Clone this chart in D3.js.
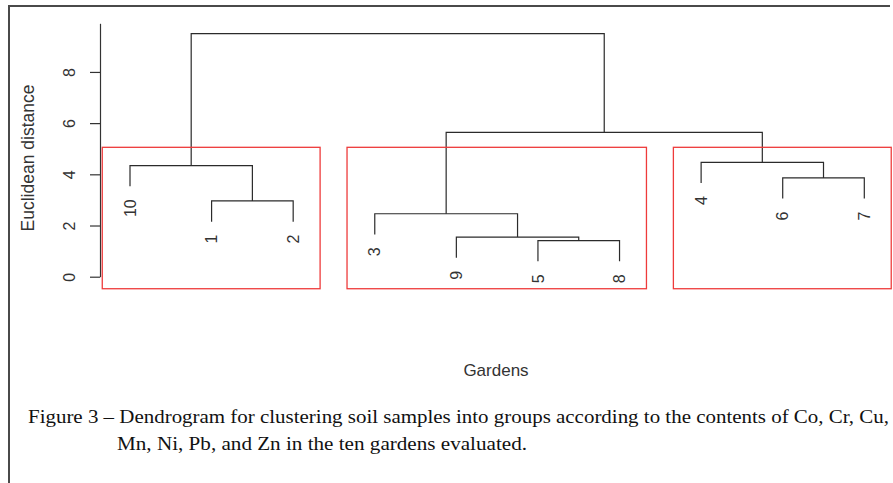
<!doctype html>
<html lang="en">
<head>
<meta charset="utf-8" />
<title>Dendrogram - gardens</title>
<script src="https://d3js.org/d3.v7.min.js"></script>
<style>
  body { margin: 0; background: #fff; }
  svg { display: block; }
</style>
</head>
<body>
<svg></svg>
<script>
// leaves in plotting order (left to right)
const leafLabels = ["10", "1", "2", "3", "9", "5", "8", "4", "6", "7"];
// R style merge table: negative = leaf (sample number), positive = earlier merge step
const mergePairs = [[-5, -8], [-9, 1], [-3, 2], [-1, -2], [-6, -7], [-10, 4], [-4, 5], [3, 7], [6, 8]];
const mergeHeights = [1.41, 1.55, 2.46, 2.96, 3.86, 4.34, 4.47, 5.64, 9.5];
// three groups boxed in red
const groups = [["10", "1", "2"], ["3", "9", "5", "8"], ["4", "6", "7"]];
const yTicks = [0, 2, 4, 6, 8];

let width = 893,
    height = 483;

const svg = d3.select("svg")
    .attr("width", width)
    .attr("height", height);

// frame of the figure (left and top edge visible)
svg.append("path")
    .attr("d", "M9,483 V6 H890")
    .attr("fill", "none")
    .attr("stroke", "#4a4a4a")
    .attr("stroke-width", 2);

let x = d3.scaleLinear().domain([1, leafLabels.length]).range([130, 864.3]);
let y = d3.scaleLinear().domain([0, 9.9]).range([276.7, 23.3]);

let g = svg.append("g");

// y axis
let axis = g.append("g")
    .attr("transform", "translate(100,0)")
    .call(d3.axisLeft(y).tickValues(yTicks).tickSize(10).tickSizeOuter(0));
axis.select(".domain").attr("stroke", "#333").attr("stroke-width", 1.2);
axis.selectAll(".tick line").attr("stroke", "#333").attr("stroke-width", 1.2);
axis.selectAll(".tick text")
    .attr("x", null).attr("dy", null)
    .attr("transform", "translate(-25,0) rotate(-90)")
    .attr("text-anchor", "middle")
    .attr("font-family", "Liberation Sans, Arial, sans-serif")
    .attr("font-size", 16)
    .attr("fill", "#333");

g.append("text")
    .attr("transform", "translate(34,158) rotate(-90)")
    .attr("text-anchor", "middle")
    .attr("font-family", "Liberation Sans, Arial, sans-serif")
    .attr("font-size", 17.5)
    .attr("fill", "#333")
    .text("Euclidean distance");

// dendrogram geometry, like plot.hclust with hang = 0.1
let hang = 0.1 * (d3.max(mergeHeights) - d3.min(mergeHeights));
let nodes = [];      // merge step -> {x, h}
let leafEnd = {};    // leaf label -> hanging end height

function nodeOf(ref, parentH) {
    if (ref < 0) {
        let lab = String(-ref);
        let h = parentH - hang;
        leafEnd[lab] = h;
        return { x: x(leafLabels.indexOf(lab) + 1), h: h };
    }
    return nodes[ref - 1];
}

let treeLayer = g.append("g")
    .attr("fill", "none")
    .attr("stroke", "#2b2b2b")
    .attr("stroke-width", 1.2);

mergePairs.forEach((p, i) => {
    let h = mergeHeights[i];
    let a = nodeOf(p[0], h),
        b = nodeOf(p[1], h);
    nodes.push({ x: (a.x + b.x) / 2, h: h });
    treeLayer.append("path")
        .attr("d", `M${a.x},${y(a.h)} V${y(h)} H${b.x} V${y(b.h)}`);
});

// leaf labels
g.append("g").selectAll("text")
    .data(leafLabels)
    .enter()
    .append("text")
        .attr("transform", (d, i) => `translate(${x(i + 1)},${y(leafEnd[d]) + 13}) rotate(-90)`)
        .attr("text-anchor", "end")
        .attr("dy", "0.35em")
        .attr("font-family", "Liberation Sans, Arial, sans-serif")
        .attr("font-size", 16)
        .attr("fill", "#333")
        .text(d => d);

// red boxes around the three groups (rect.hclust, k = 3)
let k = groups.length;
let sortedH = mergeHeights.slice().sort((a, b) => b - a);
let boxTop = (sortedH[k - 2] + sortedH[k - 1]) / 2;
let boxBottom = -0.47;

g.append("g").selectAll("rect")
    .data(groups)
    .enter()
    .append("rect")
        .attr("x", d => x(leafLabels.indexOf(d[0]) + 1 - 0.34))
        .attr("width", d => x(leafLabels.indexOf(d[d.length - 1]) + 1 + 0.33) - x(leafLabels.indexOf(d[0]) + 1 - 0.34))
        .attr("y", y(boxTop))
        .attr("height", y(boxBottom) - y(boxTop))
        .attr("fill", "none")
        .attr("stroke", "#ee3b3b")
        .attr("stroke-width", 1.3);

// x axis title
g.append("text")
    .attr("x", 496)
    .attr("y", 376)
    .attr("text-anchor", "middle")
    .attr("font-family", "Liberation Sans, Arial, sans-serif")
    .attr("font-size", 17)
    .attr("fill", "#333")
    .text("Gardens");

// caption (text in the source is a bit wider than Times, so stretch it)
let cap = svg.append("g")
    .attr("font-family", "Liberation Serif, Times New Roman, serif")
    .attr("font-size", 19.5)
    .attr("fill", "#111");
cap.append("text")
    .attr("x", 28).attr("y", 423)
    .attr("textLength", 861)
    .attr("lengthAdjust", "spacingAndGlyphs")
    .text("Figure 3 \u2013 Dendrogram for clustering soil samples into groups according to the contents of Co, Cr, Cu,");
cap.append("text")
    .attr("x", 117).attr("y", 450)
    .attr("textLength", 410)
    .attr("lengthAdjust", "spacingAndGlyphs")
    .text("Mn, Ni, Pb, and Zn in the ten gardens evaluated.");
</script>
</body>
</html>
